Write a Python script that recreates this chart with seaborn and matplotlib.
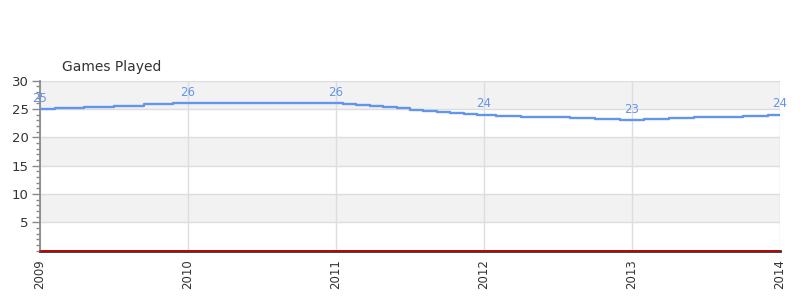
import matplotlib
matplotlib.use("Agg")
import matplotlib.pyplot as plt
from matplotlib.ticker import MultipleLocator
import seaborn as sns
import pandas as pd

# --- data ---
x_2009 = [2009.0, 2009.2, 2009.4, 2009.6, 2009.8]
v_2009 = [25.0, 25.2, 25.4, 25.6, 25.8]
x_2010 = [2010.0, 2010.5]
v_2010 = [26.0, 26.0]
x_2011 = [2011 + k / 11 for k in range(11)]
v_2011 = [26.0, 25.82, 25.64, 25.45, 25.27, 25.09, 24.91, 24.73, 24.55, 24.36, 24.18]
x_2012 = [2012 + k / 6 for k in range(6)]
v_2012 = [24.0, 23.83, 23.67, 23.5, 23.33, 23.17]
x_2013 = [2013 + k / 6 for k in range(7)]
v_2013 = [23.0, 23.17, 23.33, 23.5, 23.67, 23.83, 24.0]

label_years = [2009, 2010, 2011, 2012, 2013, 2014]
label_values = [25, 26, 26, 24, 23, 24]
title = "Games Played"

xs = x_2009 + x_2010 + x_2011 + x_2012 + x_2013
vs = v_2009 + v_2010 + v_2011 + v_2012 + v_2013
df = pd.DataFrame({"year": xs, "value": vs})

sns.set_theme(style="white")
plt.rcParams["font.family"] = ["DejaVu Sans"]

fig = plt.figure(figsize=(8, 3), dpi=100)
ax = fig.add_axes([0.05, 0.165, 0.925, 0.566])

line_color = "#6495ED"
# alternating bands
for lo in (5, 15, 25):
    ax.axhspan(lo, lo + 5, color="#f2f2f2", zorder=0, lw=0)

sns.lineplot(data=df, x="year", y="value", ax=ax, color=line_color,
             linewidth=1.7, drawstyle="steps-mid", zorder=3, sort=True,
             estimator=None)

ax.axhline(0, color="#cc0000", lw=1.2, zorder=6, clip_on=False)

for yr, v in zip(label_years, label_values):
    ax.annotate(str(v), (yr, v), xytext=(0, 3), textcoords="offset points",
                ha="center", va="bottom", color=line_color, fontsize=8.5,
                zorder=5, annotation_clip=False)

ax.set_xlim(2009, 2014)
ax.set_ylim(0, 30)
ax.set_xticks(label_years)
ax.set_xticklabels([str(y) for y in label_years], rotation=90,
                   fontsize=8.5, color="#333333")
ax.set_yticks([5, 10, 15, 20, 25, 30])
ax.set_yticklabels(["5", "10", "15", "20", "25", "30"], fontsize=9.5,
                   color="#333333")
ax.yaxis.set_minor_locator(MultipleLocator(1))
ax.tick_params(axis="y", which="major", length=6, width=1, color="#888888",
               direction="out", left=True, pad=2)
ax.tick_params(axis="y", which="minor", length=3, width=1, color="#888888",
               direction="out", left=True)
ax.tick_params(axis="x", length=0, pad=6)

ax.grid(True, axis="both", which="major", color="#dddddd", lw=1, zorder=1)
ax.set_axisbelow(True)

for s in ("top", "right"):
    ax.spines[s].set_visible(False)
ax.spines["left"].set_color("#888888")
ax.spines["bottom"].set_color("#333333")
ax.spines["bottom"].set_linewidth(2)
ax.spines["bottom"].set_zorder(2)

ax.set_xlabel("")
ax.set_ylabel("")
fig.text(62 / 800, 1 - 67 / 300, title, fontsize=10, color="#333333",
         ha="left", va="center")

fig.savefig("out.png", dpi=100)
